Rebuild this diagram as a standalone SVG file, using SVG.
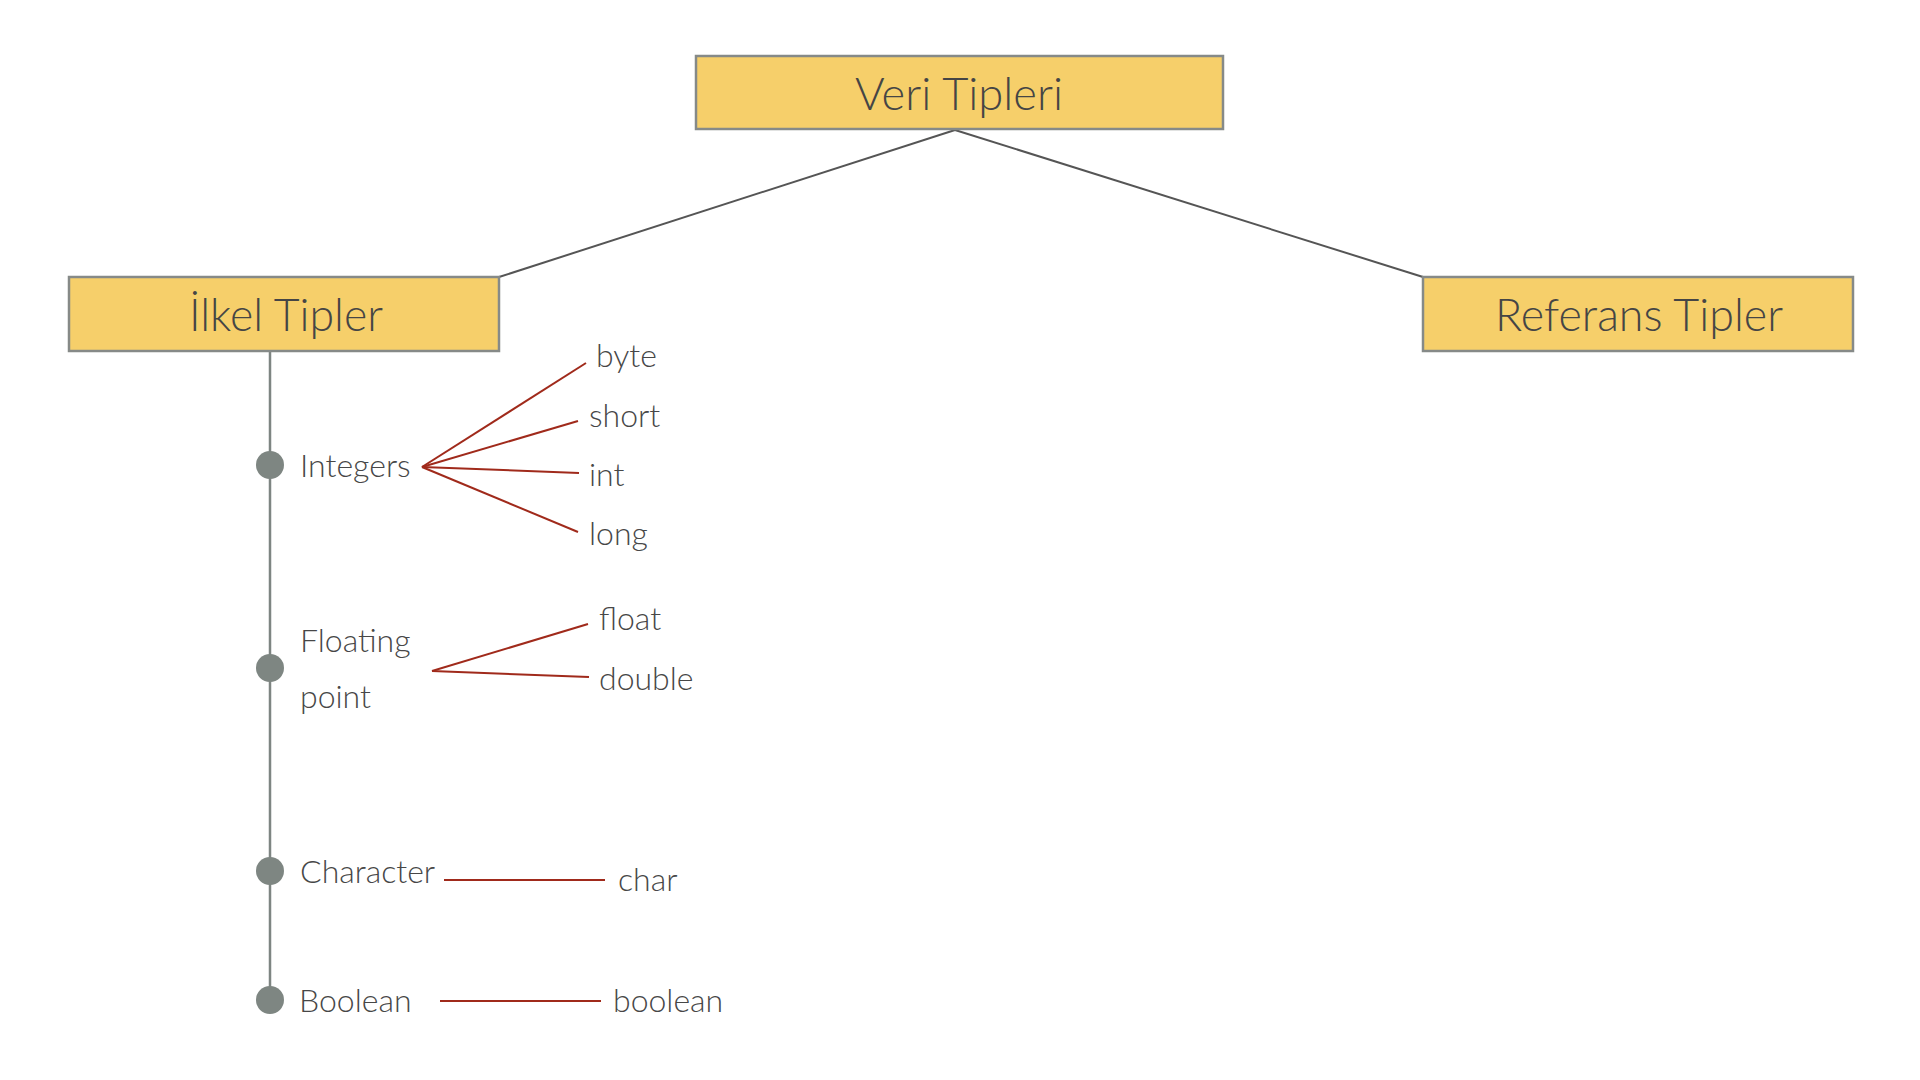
<svg xmlns="http://www.w3.org/2000/svg" width="1920" height="1080" viewBox="0 0 1920 1080">
<style>
.box{fill:#F6CF6A;stroke:#868A88;stroke-width:2.5}
.title{font-family:Lato,"Open Sans",sans-serif;font-size:46px;font-weight:300;fill:#454545;text-anchor:middle}
.lbl{font-family:Lato,"Open Sans",sans-serif;font-size:32px;font-weight:300;fill:#474747}
.gl{stroke:#555555;stroke-width:2;fill:none}
.vl{stroke:#7E8582;stroke-width:2.5;fill:none}
.rl{stroke:#A02A1B;stroke-width:2;fill:none}
.dot{fill:#7E8682}
</style>
<rect width="1920" height="1080" fill="#ffffff"/>
<g id="connectors">
<line class="gl" x1="955" y1="130" x2="499" y2="277"/>
<line class="gl" x1="955" y1="130" x2="1423" y2="277"/>
<line class="vl" x1="270" y1="351" x2="270" y2="1000"/>
<line class="rl" x1="422" y1="467" x2="586" y2="363"/>
<line class="rl" x1="422" y1="467" x2="578" y2="421"/>
<line class="rl" x1="422" y1="467" x2="579" y2="473"/>
<line class="rl" x1="422" y1="467" x2="578" y2="532"/>
<line class="rl" x1="432" y1="671" x2="588" y2="624"/>
<line class="rl" x1="432" y1="671" x2="589" y2="677"/>
<line class="rl" x1="444" y1="880" x2="605" y2="880"/>
<line class="rl" x1="440" y1="1001" x2="601" y2="1001"/>
</g>
<g id="veri-tipleri">
<rect class="box" x="696" y="56" width="527" height="73"/>
<text class="title" x="959" y="110" textLength="208" lengthAdjust="spacingAndGlyphs">Veri Tipleri</text>
</g>
<g id="ilkel-tipler">
<rect class="box" x="69" y="277" width="430" height="74"/>
<text class="title" x="286" y="331" textLength="194" lengthAdjust="spacingAndGlyphs">İlkel Tipler</text>
</g>
<g id="referans-tipler">
<rect class="box" x="1423" y="277" width="430" height="74"/>
<text class="title" x="1639" y="331" textLength="288" lengthAdjust="spacingAndGlyphs">Referans Tipler</text>
</g>
<g id="integers">
<circle class="dot" cx="270" cy="465" r="14"/>
<text class="lbl" x="300" y="477">Integers</text>
</g>
<g id="byte"><text class="lbl" x="596" y="367">byte</text></g>
<g id="short"><text class="lbl" x="589" y="427">short</text></g>
<g id="int"><text class="lbl" x="589" y="486">int</text></g>
<g id="long"><text class="lbl" x="589" y="545">long</text></g>
<g id="floating-point">
<circle class="dot" cx="270" cy="668" r="14"/>
<text class="lbl" x="300" y="652">Floating</text>
<text class="lbl" x="300" y="708">point</text>
</g>
<g id="float"><text class="lbl" x="599" y="630">float</text></g>
<g id="double"><text class="lbl" x="599" y="690">double</text></g>
<g id="character">
<circle class="dot" cx="270" cy="871" r="14"/>
<text class="lbl" x="300" y="883">Character</text>
</g>
<g id="char"><text class="lbl" x="618" y="891">char</text></g>
<g id="boolean-node">
<circle class="dot" cx="270" cy="1000" r="14"/>
<text class="lbl" x="299" y="1012">Boolean</text>
</g>
<g id="boolean"><text class="lbl" x="613" y="1012">boolean</text></g>
</svg>
